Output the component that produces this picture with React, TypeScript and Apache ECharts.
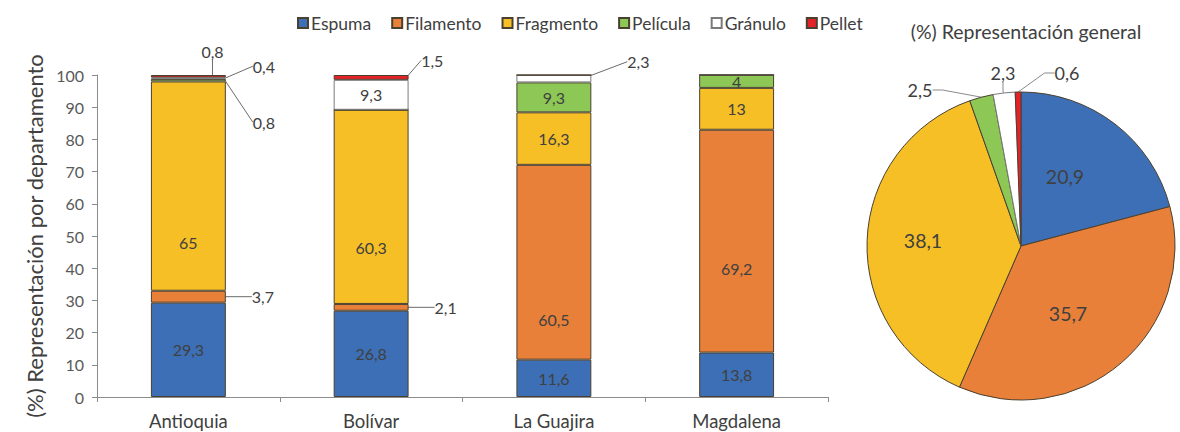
import React, { useEffect, useRef } from "react";
import * as echarts from "echarts";

// Departments and plastic-type shares (%)
const categories = ["Antioquia", "Bolívar", "La Guajira", "Magdalena"];
const typeNames = ["Espuma", "Filamento", "Fragmento", "Película", "Gránulo", "Pellet"];
const espuma = [29.3, 26.8, 11.6, 13.8];
const filamento = [3.7, 2.1, 60.5, 69.2];
const fragmento = [65, 60.3, 16.3, 13];
const pelicula = [0.8, 0, 9.3, 4];
const granulo = [0.4, 9.3, 2.3, 0];
const pellet = [0.8, 1.5, 0, 0];
const overall = [20.9, 35.7, 38.1, 2.5, 2.3, 0.6];

const seriesValues = [espuma, filamento, fragmento, pelicula, granulo, pellet];
const colors = ["#3D6FB6", "#E8803A", "#F7BF26", "#8DC856", "#FFFFFF", "#E52228"];

// Callout placement for thin segments: [series, category] -> offset from the segment
type Callout = { from: "mid" | "right"; dx: number; dy: number };
const barCallouts: Record<string, Record<number, Callout>> = {
  Filamento: { 0: { from: "right", dx: 26, dy: 0 }, 1: { from: "right", dx: 26, dy: 0 } },
  "Película": { 0: { from: "right", dx: 27, dy: 42 } },
  "Gránulo": { 0: { from: "right", dx: 27, dy: -12 }, 2: { from: "right", dx: 36, dy: -17 } },
  Pellet: { 0: { from: "mid", dx: 13, dy: -25 }, 1: { from: "mid", dx: 50, dy: -17 } },
};
// Inside labels that sit lower than the middle of their segment
const insideShift: Record<string, Record<number, number>> = {
  Filamento: { 2: 57, 3: 27 },
  Fragmento: { 0: 56, 1: 41 },
};

const PIE_CX = 1021;
const PIE_CY = 246;
const PIE_R = 154;
// Label positions for the pie slices, relative to the pie centre
const pieLabelOffsets: { dx: number; dy: number; outside: boolean }[] = [
  { dx: 44, dy: -70, outside: false },
  { dx: 47, dy: 67, outside: false },
  { dx: -98, dy: -6, outside: false },
  { dx: -101, dy: -156, outside: true },
  { dx: -18, dy: -173, outside: true },
  { dx: 46, dy: -173, outside: true },
];

const FONT = "Lato, Carlito, 'Open Sans', sans-serif";
const TEXT = "#404040";
const fmt = (v: number) => String(v).replace(".", ",");

export default function App() {
  const ref = useRef<HTMLDivElement>(null);

  useEffect(() => {
    if (!ref.current) return;
    const chart = echarts.init(ref.current, null, { renderer: "svg" });

    const barSeries = typeNames.map((name, si) => ({
      name,
      type: "bar",
      stack: "total",
      barCategoryGap: "59%",
      itemStyle: {
        color: colors[si],
        borderColor: si === 4 ? "#7a7a7a" : "#4a4030",
        borderWidth: 1,
      },
      emphasis: { disabled: true },
      labelLine: { show: false, lineStyle: { color: "#6b6b6b", width: 1 } },
      data: seriesValues[si].map((v, ci) => {
        const call = barCallouts[name] && barCallouts[name][ci];
        return {
          value: v,
          label: {
            show: v > 0,
            position: call ? "right" : "inside",
            formatter: () => fmt(v),
            color: TEXT,
            fontSize: 16,
            fontFamily: FONT,
          },
          labelLine: { show: !!call, lineStyle: { color: "#6b6b6b", width: 1 } },
        };
      }),
      labelLayout: (p: any) => {
        const shift = insideShift[name] && insideShift[name][p.dataIndex];
        if (shift) return { dy: shift };
        const call = barCallouts[name] && barCallouts[name][p.dataIndex];
        if (!call || !p.rect) return {};
        const r = p.rect;
        const baseX = call.from === "right" ? r.x + r.width : r.x + r.width / 2;
        return {
          x: baseX + call.dx,
          y: r.y + r.height / 2 + call.dy,
          align: "left",
          verticalAlign: "middle",
        };
      },
    }));

    const pieSeries = {
      type: "pie",
      center: [PIE_CX, PIE_CY],
      radius: [0, PIE_R],
      startAngle: 90,
      clockwise: true,
      avoidLabelOverlap: false,
      emphasis: { disabled: true },
      itemStyle: { borderColor: "#4a4030", borderWidth: 1 },
      data: typeNames.map((name, i) => {
        const outside = pieLabelOffsets[i].outside;
        return {
          name,
          value: overall[i],
          itemStyle: { color: colors[i], borderColor: i === 4 ? "#7a7a7a" : "#4a4030" },
          label: {
            show: true,
            position: outside ? "outside" : "inside",
            formatter: () => fmt(overall[i]),
            color: TEXT,
            fontSize: outside ? 18 : 19.5,
            fontFamily: FONT,
          },
          labelLine: { show: outside, length: 10, length2: 10, lineStyle: { color: "#8a8a8a", width: 1 } },
        };
      }),
      labelLayout: (p: any) => {
        const o = pieLabelOffsets[p.dataIndex];
        return {
          x: PIE_CX + o.dx,
          y: PIE_CY + o.dy,
          align: "center",
          verticalAlign: "middle",
        };
      },
    };

    chart.setOption({
      animation: false,
      textStyle: { fontFamily: FONT },
      title: {
        text: "(%) Representación general",
        left: PIE_CX,
        top: 16,
        textAlign: "center",
        textStyle: { fontSize: 19.5, fontWeight: "normal", color: TEXT, fontFamily: FONT },
      },
      legend: {
        data: typeNames,
        left: 292,
        top: 9,
        icon: "rect",
        itemWidth: 10,
        itemHeight: 10,
        itemGap: 20,
        textStyle: { fontSize: 17.5, color: TEXT, fontFamily: FONT, padding: [0, 0, 0, -2] },
      },
      grid: { left: 97, right: 352, top: 75, bottom: 35 },
      xAxis: {
        type: "category",
        data: categories,
        axisLine: { lineStyle: { color: "#8c8c8c" } },
        axisTick: { show: true, length: 5, lineStyle: { color: "#8c8c8c" } },
        axisLabel: { fontSize: 18.5, color: TEXT, fontFamily: FONT, margin: 14 },
      },
      yAxis: {
        type: "value",
        min: 0,
        max: 100,
        interval: 10,
        name: "(%) Representación por departamento",
        nameLocation: "middle",
        nameRotate: 90,
        nameGap: 47,
        nameTextStyle: { fontSize: 22, color: TEXT, fontFamily: FONT },
        axisLine: { show: true, lineStyle: { color: "#8c8c8c" } },
        axisTick: { show: true, length: 5, lineStyle: { color: "#8c8c8c" } },
        splitLine: { show: false },
        axisLabel: { fontSize: 16, color: "#595959", fontFamily: FONT, margin: 13 },
      },
      series: [...barSeries, pieSeries],
    });

    return () => chart.dispose();
  }, []);

  return (
    <div
      ref={ref}
      style={{ position: "fixed", left: 0, top: 0, width: 1180, height: 432, background: "#fff" }}
    />
  );
}
